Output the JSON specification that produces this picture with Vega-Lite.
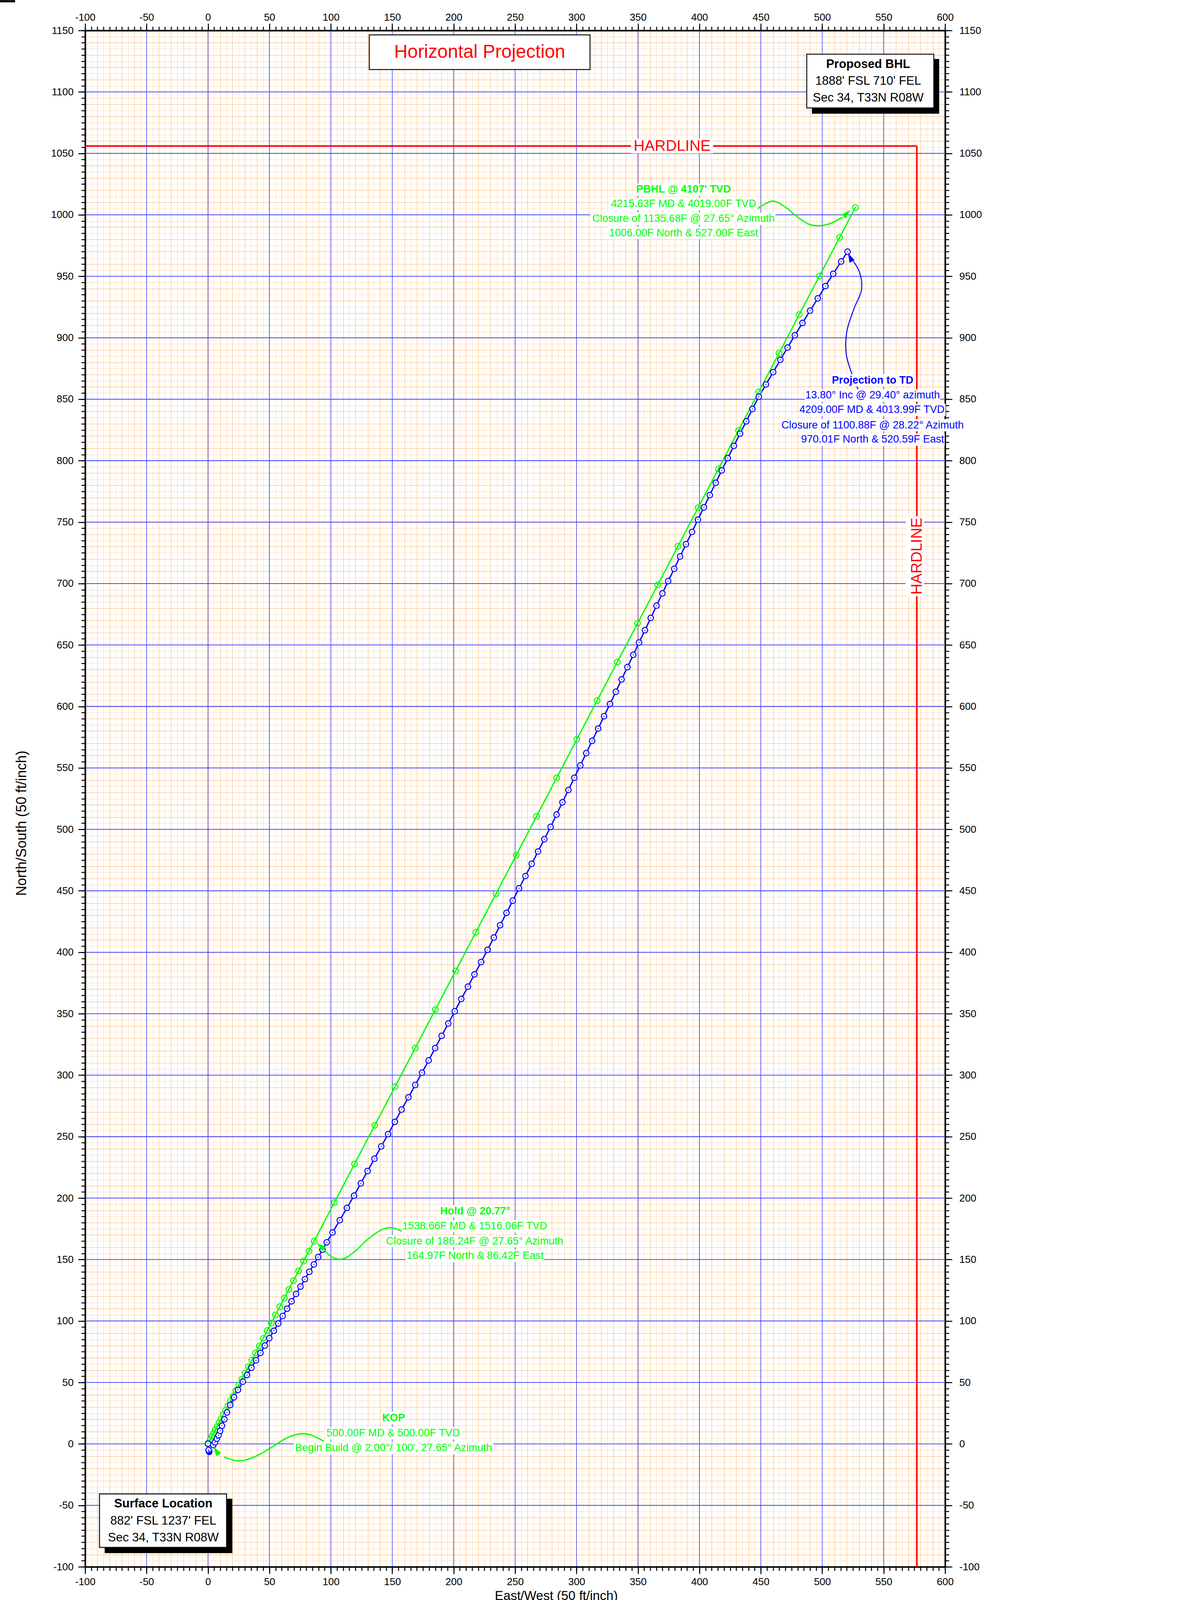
{
  "$schema": "https://vega.github.io/schema/vega-lite/v6.json",
  "width": 2202,
  "height": 3933,
  "autosize": {"type": "none"},
  "padding": {"left": 218, "top": 78, "right": 107, "bottom": 105},
  "background": "white",
  "config": {"view": {"stroke": null}, "font": "Liberation Sans", "axis": {"labelFont": "Liberation Sans", "titleFont": "Liberation Sans"}},
  "resolve": {"axis": {"x": "independent", "y": "independent"}},
  "datasets": {
    "anchor": [{"E": 0, "N": 0}],
    "vgrid": [{"E": -50}, {"E": 0}, {"E": 50}, {"E": 100}, {"E": 150}, {"E": 200}, {"E": 250}, {"E": 300}, {"E": 350}, {"E": 400}, {"E": 450}, {"E": 500}, {"E": 550}],
    "hgrid": [{"N": -50}, {"N": 0}, {"N": 50}, {"N": 100}, {"N": 150}, {"N": 200}, {"N": 250}, {"N": 300}, {"N": 350}, {"N": 400}, {"N": 450}, {"N": 500}, {"N": 550}, {"N": 600}, {"N": 650}, {"N": 700}, {"N": 750}, {"N": 800}, {"N": 850}, {"N": 900}, {"N": 950}, {"N": 1000}, {"N": 1050}, {"N": 1100}],
    "hard": [{"E": -100, "E2": 577, "N": 1056, "N2": 1056}, {"E": 577, "E2": 577, "N": 1056, "N2": -100}],
    "green": [
      {"E": 0, "N": 0}, {"E": 0.46, "N": 0.89}, {"E": 1.86, "N": 3.54}, {"E": 3.25, "N": 6.2}, {"E": 4.64, "N": 8.86}, {"E": 6.03, "N": 11.52}, {"E": 7.42, "N": 14.17}, {"E": 9.05, "N": 17.27}, {"E": 10.67, "N": 20.37}, {"E": 12.53, "N": 23.92}, {"E": 14.38, "N": 27.46}, {"E": 16.24, "N": 31.0}, {"E": 18.33, "N": 34.99}, {"E": 20.42, "N": 38.98}, {"E": 22.74, "N": 43.41}, {"E": 25.06, "N": 47.83}, {"E": 27.61, "N": 52.71}, {"E": 30.16, "N": 57.58}, {"E": 32.94, "N": 62.89}, {"E": 35.73, "N": 68.21}, {"E": 38.74, "N": 73.97}, {"E": 41.76, "N": 79.72}, {"E": 45.01, "N": 85.93}, {"E": 48.26, "N": 92.13}, {"E": 51.5, "N": 98.33}, {"E": 54.98, "N": 104.97}, {"E": 58.46, "N": 111.61}, {"E": 62.17, "N": 118.7}, {"E": 65.89, "N": 125.79}, {"E": 69.6, "N": 132.87}, {"E": 73.77, "N": 140.85}, {"E": 77.95, "N": 148.82}, {"E": 82.13, "N": 156.79}, {"E": 86.42, "N": 164.97},
      {"E": 102.87, "N": 196.39}, {"E": 119.32, "N": 227.8}, {"E": 135.77, "N": 259.21}, {"E": 152.23, "N": 290.62}, {"E": 168.68, "N": 322.03}, {"E": 185.13, "N": 353.44}, {"E": 201.58, "N": 384.85}, {"E": 218.03, "N": 416.26}, {"E": 234.49, "N": 447.67}, {"E": 250.94, "N": 479.08}, {"E": 267.39, "N": 510.5}, {"E": 283.85, "N": 541.91}, {"E": 300.3, "N": 573.32}, {"E": 316.75, "N": 604.73}, {"E": 333.2, "N": 636.14}, {"E": 349.65, "N": 667.55}, {"E": 366.11, "N": 698.96}, {"E": 382.56, "N": 730.37}, {"E": 399.01, "N": 761.78}, {"E": 415.46, "N": 793.19}, {"E": 431.92, "N": 824.6}, {"E": 448.37, "N": 856.01}, {"E": 464.83, "N": 887.42}, {"E": 481.28, "N": 918.83}, {"E": 497.73, "N": 950.24}, {"E": 514.18, "N": 981.65}, {"E": 527.0, "N": 1006.0}
    ],
    "blue": [
      {"i": 0, "E": 1.0, "N": -6.5}, {"i": 1, "E": 0.8, "N": -6.0}, {"i": 2, "E": 0.6, "N": -5.5}, {"i": 3, "E": 0.5, "N": -5.0}, {"i": 4, "E": 0.0, "N": 0.2}, {"i": 5, "E": 4.3, "N": -1.0}, {"i": 6, "E": 5.7, "N": 1.3}, {"i": 7, "E": 7.2, "N": 4.2}, {"i": 8, "E": 8.6, "N": 7.0}, {"i": 9, "E": 9.9, "N": 10.6}, {"i": 10, "E": 11.4, "N": 14.8}, {"i": 11, "E": 13.4, "N": 20.0}, {"i": 12, "E": 15.5, "N": 25.6}, {"i": 13, "E": 18.1, "N": 31.6}, {"i": 14, "E": 21.2, "N": 37.9}, {"i": 15, "E": 24.4, "N": 43.9}, {"i": 16, "E": 28.4, "N": 50.6},
      {"i": 17, "E": 31.8, "N": 56}, {"i": 18, "E": 35.4, "N": 62}, {"i": 19, "E": 39.1, "N": 68}, {"i": 20, "E": 42.7, "N": 74}, {"i": 21, "E": 46.3, "N": 80}, {"i": 22, "E": 49.9, "N": 86}, {"i": 23, "E": 53.6, "N": 92}, {"i": 24, "E": 57.2, "N": 98}, {"i": 25, "E": 60.8, "N": 104}, {"i": 26, "E": 64.4, "N": 110}, {"i": 27, "E": 68.0, "N": 116}, {"i": 28, "E": 71.7, "N": 122}, {"i": 29, "E": 75.3, "N": 128}, {"i": 30, "E": 78.9, "N": 134}, {"i": 31, "E": 82.5, "N": 140}, {"i": 32, "E": 86.2, "N": 146}, {"i": 33, "E": 89.7, "N": 152}, {"i": 34, "E": 93.2, "N": 158}, {"i": 35, "E": 96.7, "N": 164},
      {"i": 36, "E": 101.4, "N": 172}, {"i": 37, "E": 107.3, "N": 182}, {"i": 38, "E": 113.1, "N": 192}, {"i": 39, "E": 118.9, "N": 202}, {"i": 40, "E": 124.4, "N": 212}, {"i": 41, "E": 129.9, "N": 222}, {"i": 42, "E": 135.5, "N": 232}, {"i": 43, "E": 141.0, "N": 242}, {"i": 44, "E": 146.6, "N": 252}, {"i": 45, "E": 152.1, "N": 262}, {"i": 46, "E": 157.6, "N": 272}, {"i": 47, "E": 163.2, "N": 282}, {"i": 48, "E": 168.7, "N": 292}, {"i": 49, "E": 174.2, "N": 302}, {"i": 50, "E": 179.6, "N": 312}, {"i": 51, "E": 184.9, "N": 322}, {"i": 52, "E": 190.2, "N": 332}, {"i": 53, "E": 195.6, "N": 342}, {"i": 54, "E": 200.9, "N": 352}, {"i": 55, "E": 206.2, "N": 362}, {"i": 56, "E": 211.6, "N": 372}, {"i": 57, "E": 216.9, "N": 382}, {"i": 58, "E": 222.3, "N": 392}, {"i": 59, "E": 227.6, "N": 402}, {"i": 60, "E": 232.7, "N": 412}, {"i": 61, "E": 237.8, "N": 422}, {"i": 62, "E": 243.0, "N": 432}, {"i": 63, "E": 248.1, "N": 442}, {"i": 64, "E": 253.2, "N": 452}, {"i": 65, "E": 258.4, "N": 462}, {"i": 66, "E": 263.5, "N": 472}, {"i": 67, "E": 268.7, "N": 482}, {"i": 68, "E": 273.8, "N": 492}, {"i": 69, "E": 278.9, "N": 502}, {"i": 70, "E": 283.7, "N": 512}, {"i": 71, "E": 288.5, "N": 522}, {"i": 72, "E": 293.4, "N": 532}, {"i": 73, "E": 298.2, "N": 542}, {"i": 74, "E": 303.1, "N": 552}, {"i": 75, "E": 307.9, "N": 562}, {"i": 76, "E": 312.7, "N": 572}, {"i": 77, "E": 317.6, "N": 582}, {"i": 78, "E": 322.4, "N": 592}, {"i": 79, "E": 327.2, "N": 602}, {"i": 80, "E": 332.0, "N": 612}, {"i": 81, "E": 336.7, "N": 622}, {"i": 82, "E": 341.4, "N": 632}, {"i": 83, "E": 346.2, "N": 642}, {"i": 84, "E": 350.9, "N": 652}, {"i": 85, "E": 355.7, "N": 662}, {"i": 86, "E": 360.4, "N": 672}, {"i": 87, "E": 365.1, "N": 682}, {"i": 88, "E": 369.9, "N": 692}, {"i": 89, "E": 374.6, "N": 702}, {"i": 90, "E": 379.5, "N": 712}, {"i": 91, "E": 384.3, "N": 722}, {"i": 92, "E": 389.1, "N": 732}, {"i": 93, "E": 394.0, "N": 742}, {"i": 94, "E": 398.8, "N": 752}, {"i": 95, "E": 403.7, "N": 762}, {"i": 96, "E": 408.5, "N": 772}, {"i": 97, "E": 413.3, "N": 782}, {"i": 98, "E": 418.2, "N": 792}, {"i": 99, "E": 423.1, "N": 802}, {"i": 100, "E": 428.1, "N": 812}, {"i": 101, "E": 433.1, "N": 822}, {"i": 102, "E": 438.2, "N": 832}, {"i": 103, "E": 443.2, "N": 842}, {"i": 104, "E": 448.4, "N": 852}, {"i": 105, "E": 454.2, "N": 862}, {"i": 106, "E": 460.1, "N": 872}, {"i": 107, "E": 465.9, "N": 882}, {"i": 108, "E": 471.8, "N": 892}, {"i": 109, "E": 477.7, "N": 902}, {"i": 110, "E": 483.9, "N": 912}, {"i": 111, "E": 490.1, "N": 922}, {"i": 112, "E": 496.4, "N": 932}, {"i": 113, "E": 502.6, "N": 942}, {"i": 114, "E": 508.9, "N": 952}, {"i": 115, "E": 515.4, "N": 962}, {"i": 116, "E": 520.59, "N": 970.01}
    ],
    "curves": [
      {"g": "pbhl", "i": 0, "E": 447.3, "N": 1004.9}, {"g": "pbhl", "i": 1, "E": 459.8, "N": 1011.2}, {"g": "pbhl", "i": 2, "E": 470.1, "N": 1006.2}, {"g": "pbhl", "i": 3, "E": 479.6, "N": 998.4}, {"g": "pbhl", "i": 4, "E": 489.0, "N": 992.4}, {"g": "pbhl", "i": 5, "E": 495.2, "N": 991.1}, {"g": "pbhl", "i": 6, "E": 504.9, "N": 992.4}, {"g": "pbhl", "i": 7, "E": 516.6, "N": 998.0},
      {"g": "hold", "i": 0, "E": 157.6, "N": 173.0}, {"g": "hold", "i": 1, "E": 150.0, "N": 175.8}, {"g": "hold", "i": 2, "E": 143.0, "N": 175.0}, {"g": "hold", "i": 3, "E": 130.3, "N": 166.7}, {"g": "hold", "i": 4, "E": 120.0, "N": 157.0}, {"g": "hold", "i": 5, "E": 110.0, "N": 150.5}, {"g": "hold", "i": 6, "E": 102.0, "N": 151.5}, {"g": "hold", "i": 7, "E": 95.0, "N": 157.0},
      {"g": "kop", "i": 0, "E": 94.3, "N": 2.1}, {"g": "kop", "i": 1, "E": 85.0, "N": 6.8}, {"g": "kop", "i": 2, "E": 77.4, "N": 8.3}, {"g": "kop", "i": 3, "E": 68.0, "N": 6.5}, {"g": "kop", "i": 4, "E": 60.0, "N": 2.5}, {"g": "kop", "i": 5, "E": 52.1, "N": -2.6}, {"g": "kop", "i": 6, "E": 39.1, "N": -10.0}, {"g": "kop", "i": 7, "E": 25.2, "N": -13.9}, {"g": "kop", "i": 8, "E": 13.0, "N": -10.5},
      {"g": "td", "i": 0, "E": 530.0, "N": 856.0}, {"g": "td", "i": 1, "E": 524.0, "N": 871.0}, {"g": "td", "i": 2, "E": 519.5, "N": 887.0}, {"g": "td", "i": 3, "E": 520.0, "N": 905.0}, {"g": "td", "i": 4, "E": 526.0, "N": 924.0}, {"g": "td", "i": 5, "E": 532.0, "N": 939.0}, {"g": "td", "i": 6, "E": 530.5, "N": 953.0}, {"g": "td", "i": 7, "E": 525.5, "N": 962.0}
    ],
    "tips": [
      {"g": "pbhl", "E": 522.9, "N": 1003.9},
      {"g": "hold", "E": 88.5, "N": 163.5},
      {"g": "kop", "E": 4.4, "N": -2.2},
      {"g": "td", "E": 521.0, "N": 969.0}
    ],
    "lineboxes": [
      {"E": 348.6, "E2": 425.1, "N": 1025.5, "N2": 1015.5}, {"E": 326.4, "E2": 447.3, "N": 1013.8, "N2": 1003.8}, {"E": 311.3, "E2": 461.9, "N": 1001.8, "N2": 991.8}, {"E": 324.8, "E2": 448.8, "N": 990.1, "N2": 980.1},
      {"E": 508.0, "E2": 573.9, "N": 870.3, "N2": 860.3}, {"E": 485.9, "E2": 596.0, "N": 858.0, "N2": 848.0}, {"E": 480.8, "E2": 600.4, "N": 846.3, "N2": 836.3}, {"E": 465.5, "E2": 616.3, "N": 833.8, "N2": 823.8}, {"E": 481.6, "E2": 599.7, "N": 822.1, "N2": 812.1},
      {"E": 188.9, "E2": 245.4, "N": 194.3, "N2": 184.3}, {"E": 157.6, "E2": 276.7, "N": 182.1, "N2": 172.1}, {"E": 144.2, "E2": 290.2, "N": 169.9, "N2": 159.9}, {"E": 160.8, "E2": 273.5, "N": 157.9, "N2": 147.9},
      {"E": 141.5, "E2": 160.5, "N": 26.1, "N2": 16.1}, {"E": 95.3, "E2": 206.3, "N": 13.6, "N2": 3.6}, {"E": 70.0, "E2": 232.1, "N": 1.6, "N2": -8.4},
      {"E": 344.4, "E2": 411.1, "N": 1062.0, "N2": 1050.0}, {"E": 567.9, "E2": 582.8, "N": 754.8, "N2": 689.7}
    ],
    "notes": [
      {"c": "g", "r": "h", "t": "PBHL @ 4107' TVD", "E": 387.1, "N": 1020.5},
      {"c": "g", "r": "l", "t": "4215.63F MD & 4019.00F TVD", "E": 387.1, "N": 1008.8},
      {"c": "g", "r": "l", "t": "Closure of 1135.68F @ 27.65° Azimuth", "E": 387.1, "N": 996.8},
      {"c": "g", "r": "l", "t": "1006.00F North & 527.00F East", "E": 387.1, "N": 985.1},
      {"c": "g", "r": "h", "t": "Hold @ 20.77°", "E": 217.5, "N": 189.3},
      {"c": "g", "r": "l", "t": "1538.66F MD & 1516.06F TVD", "E": 217.1, "N": 177.1},
      {"c": "g", "r": "l", "t": "Closure of 186.24F @ 27.65° Azimuth", "E": 217.1, "N": 164.9},
      {"c": "g", "r": "l", "t": "164.97F North & 86.42F East", "E": 217.5, "N": 152.9},
      {"c": "g", "r": "h", "t": "KOP", "E": 151.1, "N": 21.1},
      {"c": "g", "r": "l", "t": "500.00F MD & 500.00F TVD", "E": 150.8, "N": 8.6},
      {"c": "g", "r": "l", "t": "Begin Build @ 2.00°/ 100', 27.65° Azimuth", "E": 151.1, "N": -3.4},
      {"c": "b", "r": "h", "t": "Projection to TD", "E": 541.0, "N": 865.3},
      {"c": "b", "r": "l", "t": "13.80° Inc @ 29.40° azimuth", "E": 541.0, "N": 853.0},
      {"c": "b", "r": "l", "t": "4209.00F MD & 4013.99F TVD", "E": 540.5, "N": 841.3},
      {"c": "b", "r": "l", "t": "Closure of 1100.88F @ 28.22° Azimuth", "E": 541.0, "N": 828.8},
      {"c": "b", "r": "l", "t": "970.01F North & 520.59F East", "E": 541.0, "N": 817.1}
    ],
    "shadows": [
      {"E": 491.6, "E2": 595.2, "N": 1126.8, "N2": 1082.3},
      {"E": -84.1, "E2": 19.8, "N": -44.6, "N2": -88.9},
      {"E": -169.3, "E2": -157.0, "N": 1174.7, "N2": 1172.9}
    ],
    "boxes": [
      {"E": 131.3, "E2": 311.0, "N": 1146.4, "N2": 1118.2},
      {"E": 487.4, "E2": 590.8, "N": 1130.7, "N2": 1087.0},
      {"E": -88.3, "E2": 15.1, "N": -40.7, "N2": -84.2}
    ],
    "boxtext": [
      {"r": "h", "t": "Proposed BHL", "E": 537.4, "N": 1119.5},
      {"r": "l", "t": "1888' FSL 710' FEL", "E": 537.4, "N": 1105.7},
      {"r": "l", "t": "Sec 34, T33N R08W", "E": 537.4, "N": 1092.2},
      {"r": "h", "t": "Surface Location", "E": -36.4, "N": -51.6},
      {"r": "l", "t": "882' FSL 1237' FEL", "E": -36.4, "N": -65.7},
      {"r": "l", "t": "Sec 34, T33N R08W", "E": -36.4, "N": -79.2}
    ],
    "title": [{"t": "Horizontal Projection", "E": 221.2, "N": 1132.3}],
    "hardtext": [{"o": "h", "t": "HARDLINE", "E": 377.8, "N": 1056.0}, {"o": "v", "t": "HARDLINE", "E": 577.0, "N": 722.3}]
  },
  "layer": [
    {
      "data": {"name": "anchor"},
      "mark": {"type": "point", "opacity": 0},
      "encoding": {
        "x": {"field": "E", "type": "quantitative", "scale": {"domain": [-100, 600], "nice": false, "zero": false}, "axis": {"orient": "bottom", "grid": true, "gridColor": "#ffd9b5", "gridWidth": 1, "gridOpacity": 1, "tickCount": 140, "labels": false, "ticks": false, "domain": false, "title": null}},
        "y": {"field": "N", "type": "quantitative", "scale": {"domain": [-100, 1150], "nice": false, "zero": false}, "axis": {"orient": "left", "grid": true, "gridColor": "#ffd9b5", "gridWidth": 1, "gridOpacity": 1, "tickCount": 250, "labels": false, "ticks": false, "domain": false, "title": null}}
      }
    },
    {
      "data": {"name": "anchor"},
      "mark": {"type": "point", "opacity": 0},
      "encoding": {
        "x": {"field": "E", "type": "quantitative", "scale": {"domain": [-100, 600], "nice": false, "zero": false}, "axis": {"orient": "bottom", "grid": true, "gridColor": "#ffb466", "gridWidth": 1, "gridOpacity": 1, "tickCount": 70, "labels": false, "ticks": false, "domain": false, "title": null}},
        "y": {"field": "N", "type": "quantitative", "scale": {"domain": [-100, 1150], "nice": false, "zero": false}, "axis": {"orient": "left", "grid": true, "gridColor": "#ffb466", "gridWidth": 1, "gridOpacity": 1, "tickCount": 125, "labels": false, "ticks": false, "domain": false, "title": null}}
      }
    },
    {
      "data": {"name": "vgrid"},
      "mark": {"type": "rule", "color": "#0000ff", "strokeWidth": 1.1},
      "encoding": {"x": {"field": "E", "type": "quantitative", "scale": {"domain": [-100, 600], "nice": false, "zero": false}, "axis": null}}
    },
    {
      "data": {"name": "hgrid"},
      "mark": {"type": "rule", "color": "#3535ff", "strokeWidth": 1.8},
      "encoding": {"y": {"field": "N", "type": "quantitative", "scale": {"domain": [-100, 1150], "nice": false, "zero": false}, "axis": null}}
    },
    {
      "data": {"name": "anchor"},
      "mark": {"type": "point", "opacity": 0},
      "encoding": {
        "x": {"field": "E", "type": "quantitative", "scale": {"domain": [-100, 600], "nice": false, "zero": false}, "axis": {"orient": "bottom", "grid": false, "tickCount": 140, "labels": false, "ticks": true, "tickSize": 10, "tickWidth": 2.5, "tickColor": "black", "domain": true, "domainWidth": 4, "domainColor": "black", "title": null}},
        "y": {"field": "N", "type": "quantitative", "scale": {"domain": [-100, 1150], "nice": false, "zero": false}, "axis": {"orient": "left", "grid": false, "tickCount": 250, "labels": false, "ticks": true, "tickSize": 10, "tickWidth": 2.5, "tickColor": "black", "domain": true, "domainWidth": 4, "domainColor": "black", "title": null}}
      }
    },
    {
      "data": {"name": "anchor"},
      "mark": {"type": "point", "opacity": 0},
      "encoding": {
        "x": {"field": "E", "type": "quantitative", "scale": {"domain": [-100, 600], "nice": false, "zero": false}, "axis": {"orient": "bottom", "grid": false, "tickCount": 14, "labels": true, "labelExpr": "datum.value < 0 ? '-' + (-datum.value) : '' + datum.value", "labelFontSize": 26, "labelColor": "black", "labelPadding": 7, "labelFlush": false, "labelOverlap": false, "ticks": true, "tickSize": 18, "tickWidth": 2.5, "tickColor": "black", "domain": false, "title": "East/West (50 ft/inch)", "titleFontSize": 33, "titleFontWeight": "normal", "titleColor": "black", "titleX": 1206, "titleY": 84, "titleBaseline": "alphabetic"}},
        "y": {"field": "N", "type": "quantitative", "scale": {"domain": [-100, 1150], "nice": false, "zero": false}, "axis": {"orient": "left", "grid": false, "tickCount": 25, "labels": true, "labelExpr": "datum.value < 0 ? '-' + (-datum.value) : '' + datum.value", "labelFontSize": 26, "labelColor": "black", "labelPadding": 12, "labelFlush": false, "labelOverlap": false, "ticks": true, "tickSize": 18, "tickWidth": 2.5, "tickColor": "black", "domain": false, "title": "North/South (50 ft/inch)", "titleFontSize": 36, "titleFontWeight": "normal", "titleColor": "black", "titleAngle": -90, "titleX": -152, "titleY": 2029, "titleBaseline": "alphabetic", "titleAlign": "center"}}
      }
    },
    {
      "data": {"name": "anchor"},
      "mark": {"type": "point", "opacity": 0},
      "encoding": {
        "x": {"field": "E", "type": "quantitative", "scale": {"domain": [-100, 600], "nice": false, "zero": false}, "axis": {"orient": "top", "grid": false, "tickCount": 140, "labels": false, "ticks": true, "tickSize": 10, "tickWidth": 2.5, "tickColor": "black", "domain": true, "domainWidth": 4, "domainColor": "black", "title": null}},
        "y": {"field": "N", "type": "quantitative", "scale": {"domain": [-100, 1150], "nice": false, "zero": false}, "axis": {"orient": "right", "grid": false, "tickCount": 250, "labels": false, "ticks": true, "tickSize": 10, "tickWidth": 2.5, "tickColor": "black", "domain": true, "domainWidth": 4, "domainColor": "black", "title": null}}
      }
    },
    {
      "data": {"name": "anchor"},
      "mark": {"type": "point", "opacity": 0},
      "encoding": {
        "x": {"field": "E", "type": "quantitative", "scale": {"domain": [-100, 600], "nice": false, "zero": false}, "axis": {"orient": "top", "grid": false, "tickCount": 14, "labels": true, "labelExpr": "datum.value < 0 ? '-' + (-datum.value) : '' + datum.value", "labelFontSize": 26, "labelColor": "black", "labelPadding": 3, "labelFlush": false, "labelOverlap": false, "ticks": true, "tickSize": 18, "tickWidth": 2.5, "tickColor": "black", "domain": false, "title": null}},
        "y": {"field": "N", "type": "quantitative", "scale": {"domain": [-100, 1150], "nice": false, "zero": false}, "axis": {"orient": "right", "grid": false, "tickCount": 25, "labels": true, "labelExpr": "datum.value < 0 ? '-' + (-datum.value) : '' + datum.value", "labelFontSize": 26, "labelColor": "black", "labelPadding": 18, "labelFlush": false, "labelOverlap": false, "ticks": true, "tickSize": 18, "tickWidth": 2.5, "tickColor": "black", "domain": false, "title": null}}
      }
    },
    {
      "data": {"name": "hard"},
      "mark": {"type": "rule", "color": "#ff0000", "strokeWidth": 4},
      "encoding": {
        "x": {"field": "E", "type": "quantitative", "scale": {"domain": [-100, 600], "nice": false, "zero": false}, "axis": null},
        "x2": {"field": "E2"},
        "y": {"field": "N", "type": "quantitative", "scale": {"domain": [-100, 1150], "nice": false, "zero": false}, "axis": null},
        "y2": {"field": "N2"}
      }
    },
    {
      "data": {"name": "green"},
      "mark": {"type": "line", "color": "#00ff00", "strokeWidth": 3.3},
      "encoding": {
        "x": {"field": "E", "type": "quantitative", "scale": {"domain": [-100, 600], "nice": false, "zero": false}, "axis": null},
        "y": {"field": "N", "type": "quantitative", "scale": {"domain": [-100, 1150], "nice": false, "zero": false}, "axis": null},
        "order": {"field": "N", "type": "quantitative"}
      }
    },
    {
      "data": {"name": "blue"},
      "mark": {"type": "line", "color": "#0000ff", "strokeWidth": 3.3},
      "encoding": {
        "x": {"field": "E", "type": "quantitative", "scale": {"domain": [-100, 600], "nice": false, "zero": false}, "axis": null},
        "y": {"field": "N", "type": "quantitative", "scale": {"domain": [-100, 1150], "nice": false, "zero": false}, "axis": null},
        "order": {"field": "i", "type": "quantitative"}
      }
    },
    {
      "data": {"name": "green"},
      "mark": {"type": "point", "shape": "circle", "filled": true, "fill": "white", "fillOpacity": 0.01, "stroke": "#00ff00", "strokeWidth": 2.5, "size": 215, "opacity": 1},
      "encoding": {
        "x": {"field": "E", "type": "quantitative", "scale": {"domain": [-100, 600], "nice": false, "zero": false}, "axis": null},
        "y": {"field": "N", "type": "quantitative", "scale": {"domain": [-100, 1150], "nice": false, "zero": false}, "axis": null}
      }
    },
    {
      "data": {"name": "green"},
      "mark": {"type": "point", "shape": "circle", "filled": true, "color": "#00ff00", "size": 7, "opacity": 1},
      "encoding": {
        "x": {"field": "E", "type": "quantitative", "scale": {"domain": [-100, 600], "nice": false, "zero": false}, "axis": null},
        "y": {"field": "N", "type": "quantitative", "scale": {"domain": [-100, 1150], "nice": false, "zero": false}, "axis": null}
      }
    },
    {
      "data": {"name": "blue"},
      "mark": {"type": "point", "shape": "circle", "filled": true, "fill": "white", "stroke": "#0000ff", "strokeWidth": 2.5, "size": 200, "opacity": 1},
      "encoding": {
        "x": {"field": "E", "type": "quantitative", "scale": {"domain": [-100, 600], "nice": false, "zero": false}, "axis": null},
        "y": {"field": "N", "type": "quantitative", "scale": {"domain": [-100, 1150], "nice": false, "zero": false}, "axis": null}
      }
    },
    {
      "data": {"name": "blue"},
      "mark": {"type": "point", "shape": "circle", "filled": true, "color": "#0000ff", "size": 7, "opacity": 1},
      "encoding": {
        "x": {"field": "E", "type": "quantitative", "scale": {"domain": [-100, 600], "nice": false, "zero": false}, "axis": null},
        "y": {"field": "N", "type": "quantitative", "scale": {"domain": [-100, 1150], "nice": false, "zero": false}, "axis": null}
      }
    },
    {
      "data": {"name": "curves"},
      "transform": [{"filter": "datum.g != 'td'"}],
      "mark": {"type": "line", "color": "#00ff00", "strokeWidth": 3.3, "interpolate": "catmull-rom"},
      "encoding": {
        "x": {"field": "E", "type": "quantitative", "scale": {"domain": [-100, 600], "nice": false, "zero": false}, "axis": null},
        "y": {"field": "N", "type": "quantitative", "scale": {"domain": [-100, 1150], "nice": false, "zero": false}, "axis": null},
        "detail": {"field": "g"},
        "order": {"field": "i", "type": "quantitative"}
      }
    },
    {
      "data": {"name": "curves"},
      "transform": [{"filter": "datum.g == 'td'"}],
      "mark": {"type": "line", "color": "#0000ff", "strokeWidth": 2.5, "interpolate": "catmull-rom"},
      "encoding": {
        "x": {"field": "E", "type": "quantitative", "scale": {"domain": [-100, 600], "nice": false, "zero": false}, "axis": null},
        "y": {"field": "N", "type": "quantitative", "scale": {"domain": [-100, 1150], "nice": false, "zero": false}, "axis": null},
        "order": {"field": "i", "type": "quantitative"}
      }
    },
    {
      "data": {"name": "tips"},
      "transform": [{"filter": "datum.g == 'pbhl'"}],
      "mark": {"type": "point", "shape": "M0,0L-0.6,2L0.6,2Z", "filled": true, "color": "#00ff00", "opacity": 1, "size": 600, "angle": 47},
      "encoding": {
        "x": {"field": "E", "type": "quantitative", "scale": {"domain": [-100, 600], "nice": false, "zero": false}, "axis": null},
        "y": {"field": "N", "type": "quantitative", "scale": {"domain": [-100, 1150], "nice": false, "zero": false}, "axis": null}
      }
    },
    {
      "data": {"name": "tips"},
      "transform": [{"filter": "datum.g == 'hold'"}],
      "mark": {"type": "point", "shape": "M0,0L-0.6,2L0.6,2Z", "filled": true, "color": "#00ff00", "opacity": 1, "size": 600, "angle": 310},
      "encoding": {
        "x": {"field": "E", "type": "quantitative", "scale": {"domain": [-100, 600], "nice": false, "zero": false}, "axis": null},
        "y": {"field": "N", "type": "quantitative", "scale": {"domain": [-100, 1150], "nice": false, "zero": false}, "axis": null}
      }
    },
    {
      "data": {"name": "tips"},
      "transform": [{"filter": "datum.g == 'kop'"}],
      "mark": {"type": "point", "shape": "M0,0L-0.6,2L0.6,2Z", "filled": true, "color": "#00ff00", "opacity": 1, "size": 600, "angle": 327},
      "encoding": {
        "x": {"field": "E", "type": "quantitative", "scale": {"domain": [-100, 600], "nice": false, "zero": false}, "axis": null},
        "y": {"field": "N", "type": "quantitative", "scale": {"domain": [-100, 1150], "nice": false, "zero": false}, "axis": null}
      }
    },
    {
      "data": {"name": "tips"},
      "transform": [{"filter": "datum.g == 'td'"}],
      "mark": {"type": "point", "shape": "M0,0L-0.6,2L0.6,2Z", "filled": true, "color": "#0000ff", "opacity": 1, "size": 600, "angle": 335},
      "encoding": {
        "x": {"field": "E", "type": "quantitative", "scale": {"domain": [-100, 600], "nice": false, "zero": false}, "axis": null},
        "y": {"field": "N", "type": "quantitative", "scale": {"domain": [-100, 1150], "nice": false, "zero": false}, "axis": null}
      }
    },
    {
      "data": {"name": "lineboxes"},
      "mark": {"type": "rect", "color": "white", "opacity": 1},
      "encoding": {
        "x": {"field": "E", "type": "quantitative", "scale": {"domain": [-100, 600], "nice": false, "zero": false}, "axis": null},
        "x2": {"field": "E2"},
        "y": {"field": "N", "type": "quantitative", "scale": {"domain": [-100, 1150], "nice": false, "zero": false}, "axis": null},
        "y2": {"field": "N2"}
      }
    },
    {
      "data": {"name": "notes"},
      "transform": [{"filter": "datum.c == 'g' && datum.r == 'l'"}],
      "mark": {"type": "text", "font": "Liberation Sans", "fontSize": 27, "color": "#00ff00", "align": "center", "baseline": "middle"},
      "encoding": {
        "x": {"field": "E", "type": "quantitative", "scale": {"domain": [-100, 600], "nice": false, "zero": false}, "axis": null},
        "y": {"field": "N", "type": "quantitative", "scale": {"domain": [-100, 1150], "nice": false, "zero": false}, "axis": null},
        "text": {"field": "t"}
      }
    },
    {
      "data": {"name": "notes"},
      "transform": [{"filter": "datum.c == 'g' && datum.r == 'h'"}],
      "mark": {"type": "text", "font": "Liberation Sans", "fontSize": 27, "fontWeight": "bold", "color": "#00ff00", "align": "center", "baseline": "middle"},
      "encoding": {
        "x": {"field": "E", "type": "quantitative", "scale": {"domain": [-100, 600], "nice": false, "zero": false}, "axis": null},
        "y": {"field": "N", "type": "quantitative", "scale": {"domain": [-100, 1150], "nice": false, "zero": false}, "axis": null},
        "text": {"field": "t"}
      }
    },
    {
      "data": {"name": "notes"},
      "transform": [{"filter": "datum.c == 'b' && datum.r == 'l'"}],
      "mark": {"type": "text", "font": "Liberation Sans", "fontSize": 27, "color": "#0000ff", "align": "center", "baseline": "middle"},
      "encoding": {
        "x": {"field": "E", "type": "quantitative", "scale": {"domain": [-100, 600], "nice": false, "zero": false}, "axis": null},
        "y": {"field": "N", "type": "quantitative", "scale": {"domain": [-100, 1150], "nice": false, "zero": false}, "axis": null},
        "text": {"field": "t"}
      }
    },
    {
      "data": {"name": "notes"},
      "transform": [{"filter": "datum.c == 'b' && datum.r == 'h'"}],
      "mark": {"type": "text", "font": "Liberation Sans", "fontSize": 27, "fontWeight": "bold", "color": "#0000ff", "align": "center", "baseline": "middle"},
      "encoding": {
        "x": {"field": "E", "type": "quantitative", "scale": {"domain": [-100, 600], "nice": false, "zero": false}, "axis": null},
        "y": {"field": "N", "type": "quantitative", "scale": {"domain": [-100, 1150], "nice": false, "zero": false}, "axis": null},
        "text": {"field": "t"}
      }
    },
    {
      "data": {"name": "shadows"},
      "mark": {"type": "rect", "color": "black", "opacity": 1},
      "encoding": {
        "x": {"field": "E", "type": "quantitative", "scale": {"domain": [-100, 600], "nice": false, "zero": false}, "axis": null},
        "x2": {"field": "E2"},
        "y": {"field": "N", "type": "quantitative", "scale": {"domain": [-100, 1150], "nice": false, "zero": false}, "axis": null},
        "y2": {"field": "N2"}
      }
    },
    {
      "data": {"name": "boxes"},
      "mark": {"type": "rect", "fill": "white", "stroke": "#111111", "strokeWidth": 2.5, "opacity": 1},
      "encoding": {
        "x": {"field": "E", "type": "quantitative", "scale": {"domain": [-100, 600], "nice": false, "zero": false}, "axis": null},
        "x2": {"field": "E2"},
        "y": {"field": "N", "type": "quantitative", "scale": {"domain": [-100, 1150], "nice": false, "zero": false}, "axis": null},
        "y2": {"field": "N2"}
      }
    },
    {
      "data": {"name": "boxtext"},
      "transform": [{"filter": "datum.r == 'h'"}],
      "mark": {"type": "text", "font": "Liberation Sans", "fontSize": 31, "fontWeight": "bold", "color": "black", "align": "center", "baseline": "alphabetic"},
      "encoding": {
        "x": {"field": "E", "type": "quantitative", "scale": {"domain": [-100, 600], "nice": false, "zero": false}, "axis": null},
        "y": {"field": "N", "type": "quantitative", "scale": {"domain": [-100, 1150], "nice": false, "zero": false}, "axis": null},
        "text": {"field": "t"}
      }
    },
    {
      "data": {"name": "boxtext"},
      "transform": [{"filter": "datum.r == 'l'"}],
      "mark": {"type": "text", "font": "Liberation Sans", "fontSize": 31, "color": "black", "align": "center", "baseline": "alphabetic"},
      "encoding": {
        "x": {"field": "E", "type": "quantitative", "scale": {"domain": [-100, 600], "nice": false, "zero": false}, "axis": null},
        "y": {"field": "N", "type": "quantitative", "scale": {"domain": [-100, 1150], "nice": false, "zero": false}, "axis": null},
        "text": {"field": "t"}
      }
    },
    {
      "data": {"name": "title"},
      "mark": {"type": "text", "font": "Liberation Sans", "fontSize": 47.5, "color": "#ff0000", "align": "center", "baseline": "middle"},
      "encoding": {
        "x": {"field": "E", "type": "quantitative", "scale": {"domain": [-100, 600], "nice": false, "zero": false}, "axis": null},
        "y": {"field": "N", "type": "quantitative", "scale": {"domain": [-100, 1150], "nice": false, "zero": false}, "axis": null},
        "text": {"field": "t"}
      }
    },
    {
      "data": {"name": "hardtext"},
      "transform": [{"filter": "datum.o == 'h'"}],
      "mark": {"type": "text", "font": "Liberation Sans", "fontSize": 39, "color": "#ff0000", "align": "center", "baseline": "middle"},
      "encoding": {
        "x": {"field": "E", "type": "quantitative", "scale": {"domain": [-100, 600], "nice": false, "zero": false}, "axis": null},
        "y": {"field": "N", "type": "quantitative", "scale": {"domain": [-100, 1150], "nice": false, "zero": false}, "axis": null},
        "text": {"field": "t"}
      }
    },
    {
      "data": {"name": "hardtext"},
      "transform": [{"filter": "datum.o == 'v'"}],
      "mark": {"type": "text", "font": "Liberation Sans", "fontSize": 39, "color": "#ff0000", "align": "center", "baseline": "middle", "angle": 270},
      "encoding": {
        "x": {"field": "E", "type": "quantitative", "scale": {"domain": [-100, 600], "nice": false, "zero": false}, "axis": null},
        "y": {"field": "N", "type": "quantitative", "scale": {"domain": [-100, 1150], "nice": false, "zero": false}, "axis": null},
        "text": {"field": "t"}
      }
    }
  ]
}
